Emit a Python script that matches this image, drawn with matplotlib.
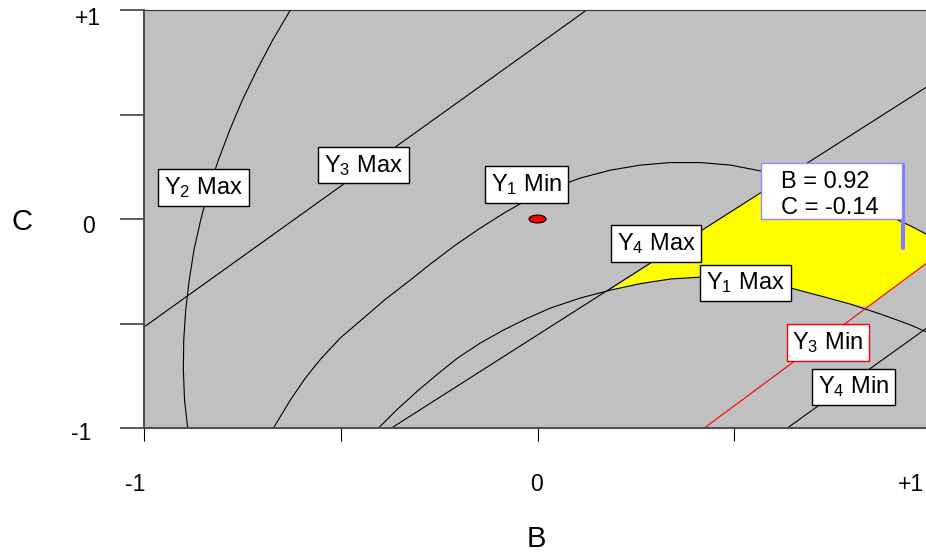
import numpy as np
import matplotlib.pyplot as plt
from matplotlib.patches import Ellipse, Polygon, Rectangle

plt.rcParams['font.family'] = ['Liberation Sans', 'DejaVu Sans']
plt.rcParams['mathtext.default'] = 'regular'

# contour lines (B, C in coded units)
y2_max_b = [-0.628, -0.673, -0.713, -0.750, -0.782, -0.811, -0.836, -0.856, -0.873, -0.885,
            -0.894, -0.899, -0.900, -0.897, -0.889]
y2_max_c = [1.0, 0.856, 0.713, 0.569, 0.426, 0.282, 0.139, -0.005, -0.148, -0.292,
            -0.435, -0.579, -0.722, -0.866, -1.0]

y3_max_b = [-1.0, 0.125]
y3_max_c = [-0.517, 1.0]

y1_min_b = [-0.671, -0.628, -0.590, -0.551, -0.501, -0.442, -0.386, -0.323, -0.272, -0.208,
            -0.145, -0.081, -0.018, 0.046, 0.109, 0.186, 0.262, 0.338, 0.414, 0.490,
            0.567, 0.643, 0.719, 0.795, 0.872, 0.948, 1.0]
y1_min_c = [-1.0, -0.866, -0.761, -0.670, -0.569, -0.474, -0.383, -0.292, -0.215, -0.124,
            -0.043, 0.033, 0.100, 0.153, 0.196, 0.234, 0.258, 0.270, 0.270, 0.258,
            0.230, 0.191, 0.144, 0.091, 0.033, -0.033, -0.084]

y1_max_b = [-0.404, -0.361, -0.305, -0.254, -0.203, -0.145, -0.086, -0.025, 0.033, 0.109,
            0.186, 0.262, 0.338, 0.414, 0.490, 0.567, 0.643, 0.719, 0.795, 0.872,
            0.948, 1.0]
y1_max_c = [-1.0, -0.919, -0.823, -0.742, -0.665, -0.593, -0.531, -0.474, -0.426, -0.378,
            -0.340, -0.309, -0.287, -0.278, -0.285, -0.301, -0.330, -0.368, -0.407, -0.455,
            -0.507, -0.550]

y4_max_b = [-0.371, 1.0]
y4_max_c = [-1.0, 0.645]

y3_min_b = [0.424, 1.0]
y3_min_c = [-1.0, -0.196]

y4_min_b = [0.635, 1.0]
y4_min_c = [-1.0, -0.507]

# sweet spot (yellow) outline
sweet_b = [0.186, 0.628, 0.643, 0.719, 0.795, 0.872, 0.948, 1.0, 1.0, 0.84,
           0.795, 0.719, 0.643, 0.567, 0.490, 0.414, 0.338, 0.262]
sweet_c = [-0.340, 0.198, 0.191, 0.144, 0.091, 0.033, -0.033, -0.084, -0.196, -0.42,
           -0.407, -0.368, -0.330, -0.301, -0.285, -0.278, -0.287, -0.309]

# labels: text, B, C
labels = ['Y$_2$ Max', 'Y$_3$ Max', 'Y$_1$ Min', 'Y$_4$ Max', 'Y$_1$ Max', 'Y$_3$ Min', 'Y$_4$ Min']
label_b = [-0.849, -0.442, -0.028, 0.301, 0.529, 0.738, 0.803]
label_c = [0.151, 0.258, 0.165, -0.117, -0.306, -0.591, -0.804]
label_edge = ['black', 'black', 'black', 'black', 'black', 'red', 'black']

center_b, center_c = 0.0, 0.0
flag_b, flag_c = 0.92, -0.14

fig = plt.figure(figsize=(9.26, 5.52), dpi=100)
ax = fig.add_axes([144 / 926, 124 / 552, 787 / 926, 418 / 552])
ax.set_facecolor('#c0c0c0')
ax.set_xlim(-1, 1)
ax.set_ylim(-1, 1)

ax.add_patch(Polygon(list(zip(sweet_b, sweet_c)), closed=True, facecolor='#ffff00',
                     edgecolor='none', zorder=1))

for bb, cc in [(y2_max_b, y2_max_c), (y3_max_b, y3_max_c), (y1_min_b, y1_min_c),
               (y1_max_b, y1_max_c), (y4_max_b, y4_max_c), (y4_min_b, y4_min_c)]:
    ax.plot(bb, cc, color='black', lw=0.8, zorder=2)
ax.plot(y3_min_b, y3_min_c, color='red', lw=0.8, zorder=2)

ax.add_patch(Ellipse((center_b, center_c), 0.043, 0.038, facecolor='red',
                     edgecolor='black', lw=0.8, zorder=3))

for txt, bb, cc, ec in zip(labels, label_b, label_c, label_edge):
    ax.text(bb, cc, txt, fontsize=17, ha='center', va='center', zorder=5,
            bbox=dict(boxstyle='square,pad=0.25', facecolor='white', edgecolor=ec, lw=1))

# flag with readout box
ax.plot([flag_b + 0.008, flag_b + 0.008], [flag_c, 0.258], color='#8080ff', lw=3,
        solid_capstyle='round', zorder=4)
ax.add_patch(Rectangle((0.569, 0.0), 0.358, 0.268, facecolor='white', edgecolor='#8c8cff',
                       lw=1, zorder=5))
ax.text(0.620, 0.177, 'B = %.2f' % flag_b, fontsize=17, ha='left', va='center', zorder=6)
ax.text(0.620, 0.053, 'C = %.2f' % flag_c, fontsize=17, ha='left', va='center', zorder=6)

# axes cosmetics
for side in ['left', 'bottom']:
    ax.spines[side].set_color('#505050')
    ax.spines[side].set_linewidth(1.5)
ax.spines['top'].set_color('#333333')
ax.spines['top'].set_linewidth(0.8)
ax.spines['right'].set_visible(False)

ax.set_xticks([-1, -0.5, 0, 0.5, 1])
ax.set_yticks([-1, -0.5, 0, 0.5, 1])
ax.set_xticklabels([])
ax.set_yticklabels([])
ax.tick_params(axis='x', direction='out', length=9, width=0.8, color='black')
ax.tick_params(axis='y', direction='out', length=17, width=1.2, color='#404040')

xlab_txt = ['-1', '0', '+1']
xlab_pos = [-1.023, -0.003, 0.949]
for t, p in zip(xlab_txt, xlab_pos):
    ax.text(p, -0.136, t, fontsize=16.5, ha='center', va='center',
            transform=ax.get_xaxis_transform())

ylab_txt = ['+1', '0', '-1']
ylab_pos = [0.957, -0.038, -1.024]
ylab_x = [-0.071, -0.071, -0.080]
for t, p, xx in zip(ylab_txt, ylab_pos, ylab_x):
    ax.text(xx, p, t, fontsize=16.5, ha='center', va='center',
            transform=ax.get_yaxis_transform())

fig.text(536 / 926, 1 - 539 / 552, 'B', fontsize=21, ha='center', va='center')
fig.text(22 / 926, 1 - 222 / 552, 'C', fontsize=21, ha='center', va='center')

fig.savefig('out.png', dpi=100)
